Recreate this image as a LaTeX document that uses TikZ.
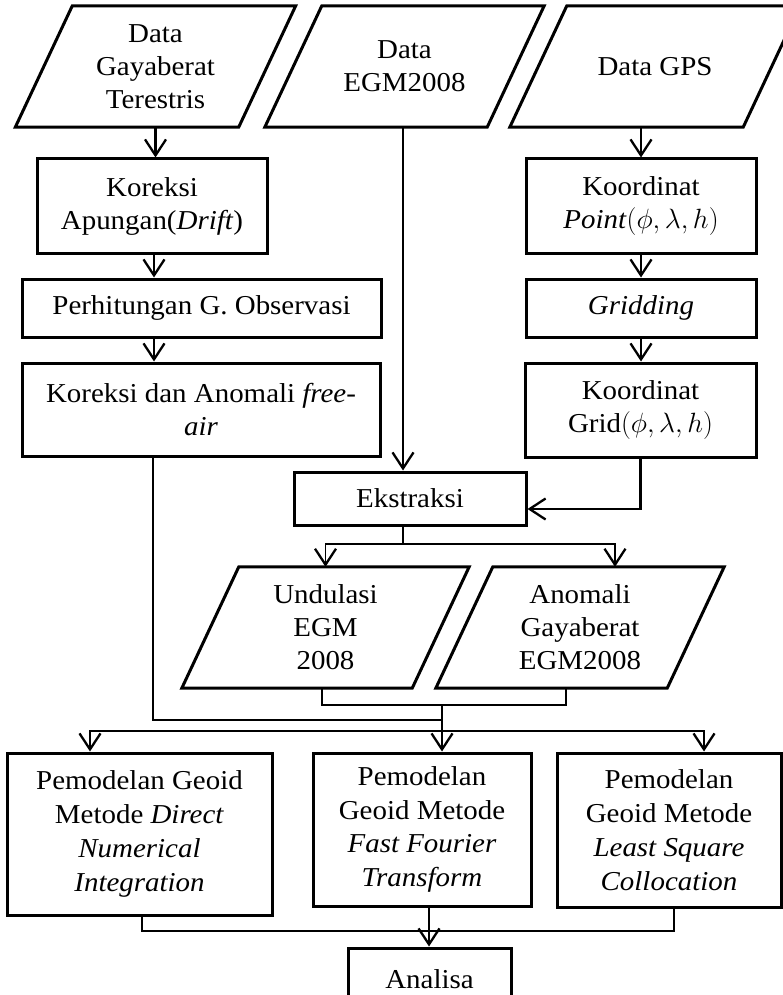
\documentclass[tikz,border=0pt]{standalone}
\usepackage{fontspec}
\setmainfont{Liberation Serif}[FakeStretch=1.06]
\usetikzlibrary{arrows.meta}
\newcommand\myfs{\fontsize{27.3}{33}\selectfont}
\newcommand\myfsb{\fontsize{27.3}{33.8}\selectfont}
\newcommand\coordmath{\scalebox{1.12}{$(\phi,\lambda,h)$}}
\tikzset{
  outline/.style={line width=3pt, line join=miter},
  box/.style={draw, line width=3pt, inner sep=0pt, align=center, font=\myfs},
  para/.style={inner sep=0pt, align=center, minimum height=121pt, font=\myfs},
  tip/.style={-{Straight Barb[length=16pt,width=21pt,line width=2.3pt]}},
  main/.style={line width=2.3pt, tip},
  thinline/.style={line width=1.3pt},
  thinarrow/.style={line width=1.3pt, tip},
}
\begin{document}
\begin{tikzpicture}[x=1pt,y=-1pt]
\useasboundingbox (0,0) rectangle (783,995);
\clip (0,0) rectangle (783,995);
\fill[white] (0,0) rectangle (783,995);

% input parallelograms
\node[para, minimum width=223pt] (d1) at (155.5,66.5) {Data\\Gayaberat\\Terestris};
\node[para, minimum width=222pt] (d2) at (404.5,66.5) {Data\\EGM2008};
\node[para, minimum width=233pt] (d3) at (655,66.5) {Data GPS};

% left column
\node[box, minimum width=230pt, minimum height=94pt] (b1) at (152,206) {Koreksi\\Apungan(\textit{Drift})};
\node[box, minimum width=359pt, minimum height=58pt] (b2) at (201.5,308) {Perhitungan G. Observasi};
\node[box, minimum width=358pt, minimum height=93pt] (b3) at (201,409.5) {Koreksi dan Anomali \textit{free-}\\\textit{air}};

% right column
\node[box, minimum width=230pt, minimum height=94pt] (r1) at (641,206) {Koordinat\\\textit{Point}\coordmath};
\node[box, minimum width=230pt, minimum height=58pt] (r2) at (641,308) {\textit{Gridding}};
\node[box, minimum width=231pt, minimum height=94pt] (r3) at (640.5,410) {Koordinat\\Grid\coordmath};

% extraction
\node[box, minimum width=232pt, minimum height=53pt] (ek) at (410,498.5) {Ekstraksi};

% EGM outputs
\node[para, minimum width=230pt] (u1) at (325.5,627.5) {Undulasi\\EGM\\2008};
\node[para, minimum width=231pt] (u2) at (580,627.5) {Anomali\\Gayaberat\\EGM2008};

% models
\node[box, font=\myfsb, minimum width=265pt, minimum height=162pt] (m1) at (139.5,834) {Pemodelan Geoid\\Metode \textit{Direct}\\\textit{Numerical}\\\textit{Integration}};
\node[box, font=\myfsb, minimum width=218pt, minimum height=153pt] (m2) at (422,829.5) {Pemodelan\\Geoid Metode\\\textit{Fast Fourier}\\\textit{Transform}};
\node[box, font=\myfsb, minimum width=224pt, minimum height=154pt] (m3) at (669,830) {Pemodelan\\Geoid Metode\\\textit{Least Square}\\\textit{Collocation}};

% analysis
\node[box, minimum width=163pt, minimum height=62pt] (an) at (429.5,979) {Analisa};

% parallelogram outlines
\foreach \n in {d1,d2,d3,u1,u2}
  \draw[outline] ([xshift=28.5pt]\n.north west) -- ([xshift=28.5pt]\n.north east)
    -- ([xshift=-28.5pt]\n.south east) -- ([xshift=-28.5pt]\n.south west) -- cycle;

% junctions
\coordinate (ekj) at (403,544);
\coordinate (mj) at (442,705);
\coordinate (lj) at (442,720);
\coordinate (bj) at (442,731);
\coordinate (aj) at (429,931);

% left column arrows
\draw[main] (d1.south) -- (d1.south |- b1.north);
\draw[main] ([xshift=2pt]b1.south) -- ([xshift=2pt]b1.south |- b2.north);
\draw[main] ([xshift=2pt]b1.south |- b2.south) -- ([xshift=2pt]b1.south |- b3.north);

% right column arrows
\draw[main] (r1.north |- d3.south) -- (r1.north);
\draw[main] (r1.south) -- (r2.north);
\draw[main] (r2.south) -- (r2.south |- r3.north);

% EGM to extraction
\draw[main] (ekj |- d2.south) -- (ekj |- ek.north);
\draw[main] (r3.south) |- ([yshift=-10.5pt]ek.east);

% extraction outputs
\draw[thinline] (ekj |- ek.south) -- (ekj);
\draw[thinarrow] (ekj) -| (u1.north);
\draw[thinarrow] (ekj) -| ([xshift=35pt]u2.north);

% merge of outputs
\draw[thinline] ([xshift=-3.5pt]u1.south) |- ([xshift=-14pt]u2.south |- mj) -- ([xshift=-14pt]u2.south);
\draw[thinline] ([xshift=-48pt]b3.south) |- (lj);
\draw[main] (mj) -- (mj |- m2.north);
\draw[thinarrow] (bj) -| ([xshift=-49.5pt]m1.north);
\draw[thinarrow] (bj) -| ([xshift=35pt]m3.north);

% merge to analysis
\draw[thinline] ([xshift=2.5pt]m1.south) |- ([xshift=5pt]m3.south |- aj) -- ([xshift=5pt]m3.south);
\draw[thinarrow] (aj |- m2.south) -- (aj |- an.north);
\end{tikzpicture}
\end{document}
